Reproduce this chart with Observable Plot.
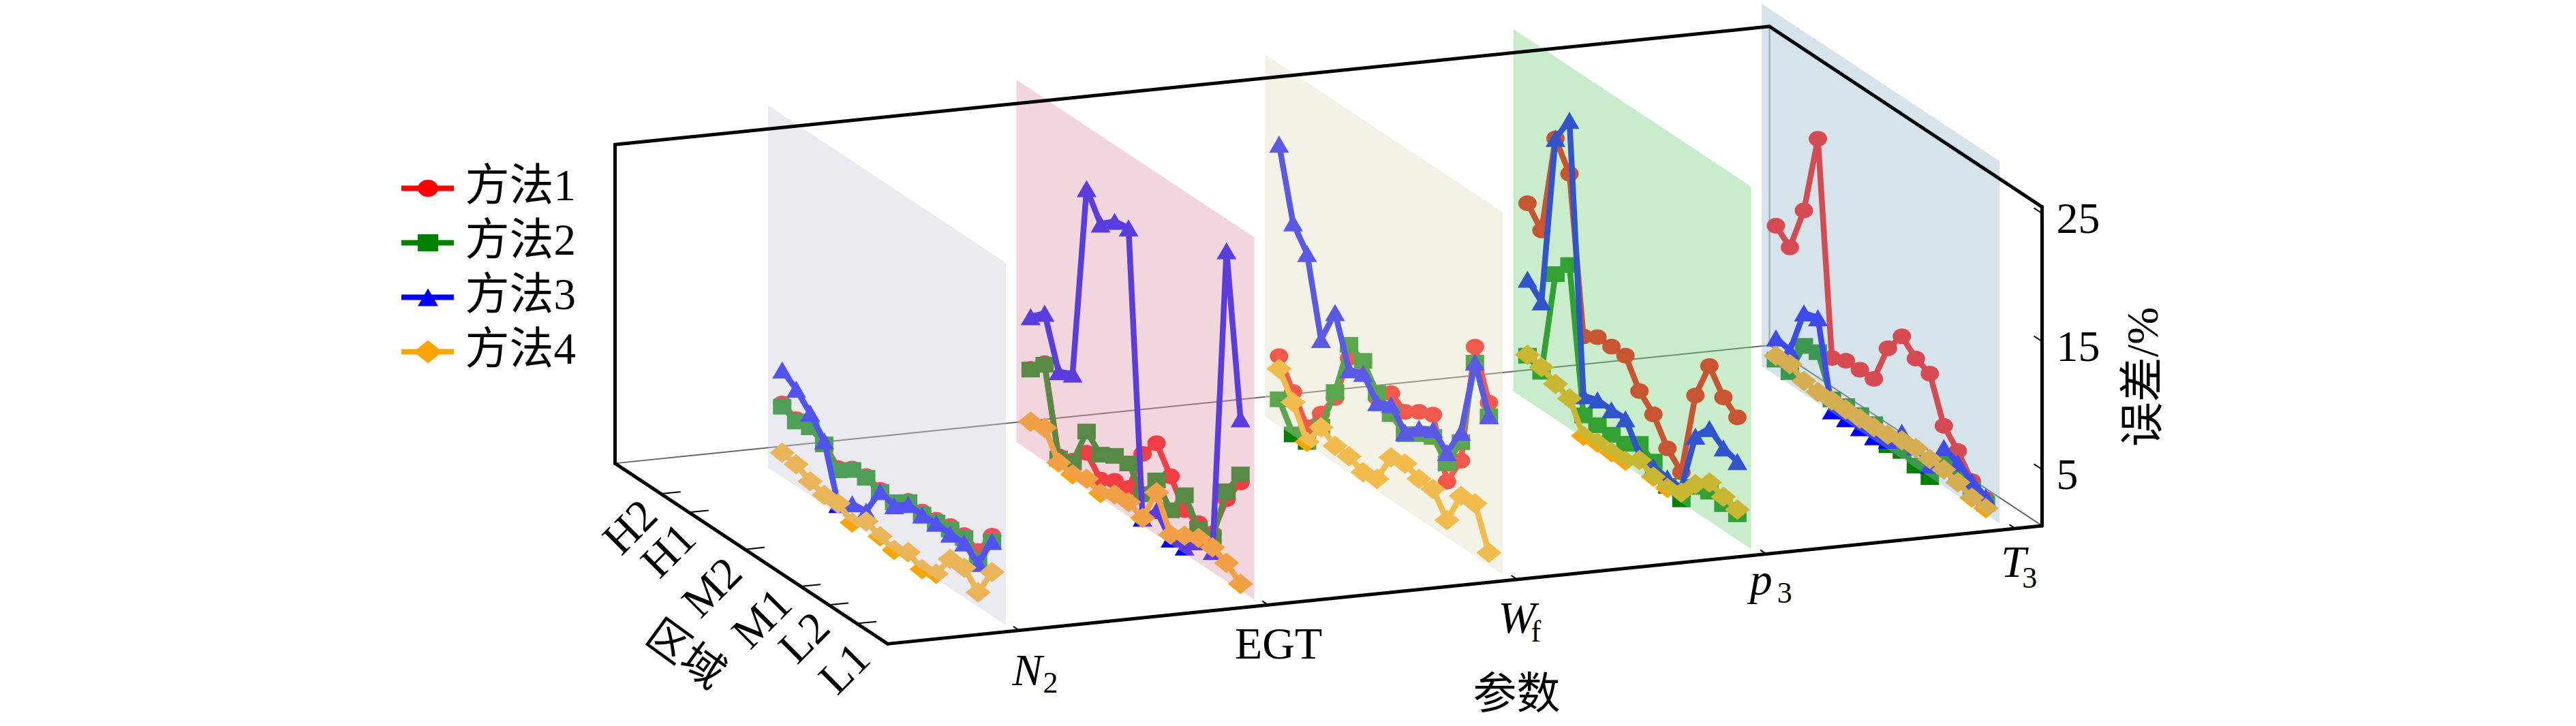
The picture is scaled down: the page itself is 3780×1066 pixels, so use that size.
<!DOCTYPE html>
<html><head><meta charset="utf-8">
<script src="https://cdn.jsdelivr.net/npm/d3@7"></script>
<script src="https://cdn.jsdelivr.net/npm/@observablehq/plot@0.6"></script>
<style>
html,body{margin:0;padding:0;background:#fff;}
#wrap{position:relative;width:3780px;height:1066px;overflow:hidden;}
#wrap svg{position:absolute;overflow:visible;background:transparent;}
</style></head><body><div id="wrap"></div>
<script>
// ---------- data ----------
const methods = ["方法1","方法2","方法3","方法4"];
const params = ["N2","EGT","Wf","p3","T3"];
const regions = ["H2","H1","M2","M1","L2","L1"];
const regionIndex = [0,2,6,10,12,14];
const errTicks = [5,15,25];

const n2M1 = [6.16,5.65,6.0,5.19,4.0,4.69,4.83,4.48,4.23,5.05,4.94,5.03,5.26,5.28,4.76,6.68];
const n2M2 = [5.9,5.47,5.74,5.13,3.82,4.58,4.69,4.3,4.23,4.96,4.71,4.81,4.99,5.05,4.05,6.2];
const n2M3 = [8.77,7.99,6.85,5.4,1.16,1.94,2.08,4.34,3.96,4.78,4.67,4.76,4.64,4.66,3.79,6.23];
const n2M4 = [2.31,2.13,1.52,1.18,1.25,0.47,1.29,0.84,0.5,1.06,0.45,0.81,2.69,2.74,1.53,3.84];

const egtM1 = [6.87,8.04,1.5,1.87,3.22,1.84,2.47,2.63,6.02,7.58,5.72,3.8,3.5,3.43,6.82,8.86];
const egtM2 = [6.82,7.92,1.32,1.73,4.87,3.79,4.42,4.55,2.86,4.67,3.06,4.96,3.06,3.11,7.44,9.48];
const egtM3 = [10.95,11.94,8.1,8.64,23.84,21.8,22.74,22.94,1.0,2.31,0.81,0.91,2.05,2.01,26.23,13.82];
const egtM4 = [2.74,2.99,1.0,0.81,1.18,0.79,1.41,1.53,1.02,3.73,1.16,1.8,2.35,2.33,1.85,0.93];

const wfM1 = [5.88,3.8,1.78,3.56,5.52,9.35,9.73,7.7,8.77,8.04,8.77,9.27,4.76,7.12,16.75,13.1];
const wfM2 = [2.51,0.49,0.63,2.55,5.97,10.38,9.85,8.06,7.14,6.3,7.03,7.53,6.18,8.57,15.5,12.03];
const wfM3 = [22.44,17.01,15.35,9.35,12.17,8.43,8.88,7.31,7.88,6.45,7.47,8.11,7.03,9.34,15.54,12.07];
const wfM4 = [4.9,3.01,0.63,2.49,1.77,1.68,1.16,1.36,3.77,4.0,3.54,3.47,1.75,4.37,4.51,1.39];

const p3M1 = [15.84,14.44,22.35,20.31,8.33,9.0,8.98,9.0,6.96,5.86,3.93,2.79,9.51,12.53,10.81,9.97];
const p3M2 = [3.93,3.4,11.75,13.18,2.16,2.12,2.1,2.12,2.83,2.17,1.0,0.67,2.37,2.72,2.47,2.4];
const p3M3 = [9.9,8.86,22.35,24.48,3.7,4.09,4.05,4.07,2.03,1.78,1.62,1.55,6.32,7.65,6.85,6.52];
const p3M4 = [4.0,3.77,3.17,2.76,0.56,0.75,0.74,0.79,1.57,0.99,0.83,1.2,2.58,3.43,3.04,2.76];

const t3M1 = [12.1,11.13,14.74,21.06,4.66,5.17,5.19,5.2,8.31,9.97,8.96,8.5,5.15,3.91,2.28,1.59];
const t3M2 = [1.64,1.39,4.16,4.39,1.43,1.62,1.64,1.66,0.74,1.02,0.6,0.42,2.26,1.91,1.57,1.23];
const t3M3 = [3.33,3.08,6.73,7.08,0.54,0.65,0.67,0.68,1.13,2.47,2.05,1.36,3.45,2.97,2.28,1.77];
const t3M4 = [1.94,2.01,1.41,1.29,1.34,1.36,1.38,1.43,1.57,1.85,1.96,1.84,1.73,1.46,0.99,0.88];

const table = [
  [n2M1,n2M2,n2M3,n2M4],[egtM1,egtM2,egtM3,egtM4],[wfM1,wfM2,wfM3,wfM4],
  [p3M1,p3M2,p3M3,p3M4],[t3M1,t3M2,t3M3,t3M4]];

// ---------- styling and oblique projection ----------
const serif = '"Liberation Serif","Noto Sans CJK SC",serif';
const colors = ["#ff0000","#008000","#0000ff","#ffa500"];
const panelFill = ["#c8cddc","#de98ac","#dedec0","#78d27d","#96bbca"];
const W = 1694, H = 173.4, DX = 400, DY = 265, UNIT = 18.8;   // px per axis length
const zMin = 0.4, zMax = 25.3, zPanel = 28.7;
const X = (t,d) => t - d*DX/W;
const Y = (t,d,z) => z - (1-t)*H/UNIT + d*DY/UNIT;
const tPanel = p => 0.1098 + 0.2152*p;
const dPoint = i => 0.8518 - 0.05133*i;
const tTick = p => 0.114 + 0.2157*p;

const shape = (w,h,kind) => ({draw(c){
  const a=w/2,b=h/2;
  if(kind==="circle"){ const n=40; for(let k=0;k<n;k++){const q=2*Math.PI*k/n; const x=a*Math.cos(q),y=b*Math.sin(q); k?c.lineTo(x,y):c.moveTo(x,y);} }
  if(kind==="square"){ c.moveTo(-a,-b);c.lineTo(a,-b);c.lineTo(a,b);c.lineTo(-a,b); }
  if(kind==="triangle"){ c.moveTo(0,-b);c.lineTo(a,b);c.lineTo(-a,b); }
  if(kind==="diamond"){ c.moveTo(0,-b);c.lineTo(a,0);c.lineTo(0,b);c.lineTo(-a,0); }
  c.closePath();
}});
const plotSymbols = [shape(27,23,"circle"),shape(27,23,"square"),shape(29,25,"triangle"),shape(37,30,"diamond")];
const legendSymbols = [shape(30,25,"circle"),shape(30,25,"square"),shape(30,26,"triangle"),shape(42,34,"diamond")];

// ---------- marks ----------
const edge = (a,b,stroke,sw) => Plot.line([a,b],{x:e=>X(e[0],e[1]),y:e=>Y(e[0],e[1],e[2]),stroke,strokeWidth:sw,strokeLinecap:"round"});
const marks = [];
// thin back edges
marks.push(edge([0,1,zMin],[1,1,zMin],"#666",2));
marks.push(edge([1,1,zMin],[1,1,zMax],"#999",2));
marks.push(edge([1,1,zMin],[1,0,zMin],"#666",2));

table.forEach((series,p)=>{
  const t = tPanel(p);
  series.forEach((vals,m)=>{
    const pts = vals.map((z,i)=>({x:X(t,dPoint(i)),y:Y(t,dPoint(i),z)}));
    marks.push(Plot.line(pts,{x:"x",y:"y",stroke:colors[m],strokeWidth:8.5,strokeLinejoin:"round"}));
    marks.push(Plot.dot(pts,{x:"x",y:"y",symbol:plotSymbols[m],r:1,fill:colors[m],stroke:"none"}));
  });
  const ends = [0.9025,0.03];
  marks.push(Plot.area(ends,{x1:d=>X(t,d),y1:d=>Y(t,d,zMin),y2:d=>Y(t,d,zPanel),fill:panelFill[p],fillOpacity:0.4}));
});

// black frame
[[[0,0,zMin],[1,0,zMin]],[[1,0,zMin],[1,0,zMax]],[[1,0,zMax],[1,1,zMax]],[[1,1,zMax],[0,1,zMax]],
 [[0,1,zMax],[0,1,zMin]],[[0,1,zMin],[0,0,zMin]]].forEach(([a,b])=>marks.push(edge(a,b,"#000",5)));

// value axis on the right edge
marks.push(Plot.link(errTicks,{x1:()=>X(1,0),x2:()=>X(1,0.03),y1:z=>Y(1,0,z-0.2),y2:z=>Y(1,0.03,z-0.2),stroke:"#000",strokeWidth:2}));
marks.push(Plot.axisY(errTicks,{anchor:"right",label:null,tickSize:0,tickPadding:21,dy:12,fontSize:64,fontFamily:serif,fill:"#000"}));

// region axis
const regionTickShift = 0.4, regionTickLen = 0.0165;
const regionOffset = [[-45,49],[-30,56],[-48,56],[-57,47],[-36,48],[-18,66]];
regions.forEach((r,k)=>{
  const d = dPoint(regionIndex[k]+regionTickShift);
  marks.push(edge([0,d,zMin],[regionTickLen,d,zMin],"#000",2));
  marks.push(Plot.text([r],{x:()=>X(0,d),y:()=>Y(0,d,zMin),text:v=>v,rotate:-45,dx:regionOffset[k][0],dy:regionOffset[k][1],fontSize:66,fontFamily:serif,fill:"#000",textAnchor:"middle",lineAnchor:"middle"}));
});

// parameter axis
const labelMain = ["N","EGT","W","p","T"];
const labelSub  = ["2","","f","3","3"];
const labelItalic = [true,false,true,true,true];
const labelOffset = [[-10,80],[-49,79],[-28,78],[-24,60],[-21,71]];
const subOffset = [[35,91],[0,0],[20,91],[16,72],[10,87]];
params.forEach((_,p)=>{
  const t = tTick(p);
  marks.push(edge([t,0,zMin],[t,0.02,zMin],"#000",2));
  const base = {x:()=>X(t,0),y:()=>Y(t,0,zMin),fontFamily:serif,fill:"#000",textAnchor:"start",lineAnchor:"bottom"};
  marks.push(Plot.text([labelMain[p]],{...base,text:v=>v,dx:labelOffset[p][0],dy:labelOffset[p][1],fontSize:66,fontStyle:labelItalic[p]?"italic":"normal"}));
  if(labelSub[p]) marks.push(Plot.text([labelSub[p]],{...base,text:v=>v,dx:subOffset[p][0],dy:subOffset[p][1],fontSize:44}));
});

// axis titles
const title = (s,t,d,z,dx,dy,rot,fs)=>Plot.text([s],{x:()=>X(t,d),y:()=>Y(t,d,z),text:v=>v,dx,dy,rotate:rot,fontSize:fs,fontFamily:serif,fill:"#000",textAnchor:"middle",lineAnchor:"middle"});
marks.push(title("参数",0.5,0,zMin,76,161,0,64));
marks.push(title("误差/%",1,0,15,148,56,-90,66));
marks.push(title("区域",0,0.5,zMin,-97,148,36,62));

const main = Plot.plot({
  width:3780,height:1066,marginLeft:0,marginTop:0,marginBottom:0,marginRight:784,
  x:{domain:[0,1],range:[1302,2996],axis:null},
  y:{domain:[0,25],range:[779,309],label:null},
  marks
});
main.style.left="0";main.style.top="0";
document.getElementById("wrap").appendChild(main);

// ---------- legend ----------
const legend = Plot.plot({
  width:330,height:340,margin:0,
  x:{domain:[0,1],range:[29,106],axis:null},
  y:{type:"point",domain:methods,range:[55,297],padding:0,axis:null},
  marks:[
    ...methods.map((m,k)=>Plot.ruleY([m],{x1:0,x2:1,stroke:colors[k],strokeWidth:8})),
    ...methods.map((m,k)=>Plot.dot([m],{x:()=>0.5,y:v=>v,symbol:legendSymbols[k],r:1,fill:colors[k],stroke:"none"})),
    Plot.text(methods,{x:()=>1,y:v=>v,text:v=>v,dx:16,dy:-3,textAnchor:"start",fontSize:65,fontFamily:serif,fill:"#000"})
  ]
});
legend.style.left="560px";legend.style.top="220px";
document.getElementById("wrap").appendChild(legend);
</script></body></html>
